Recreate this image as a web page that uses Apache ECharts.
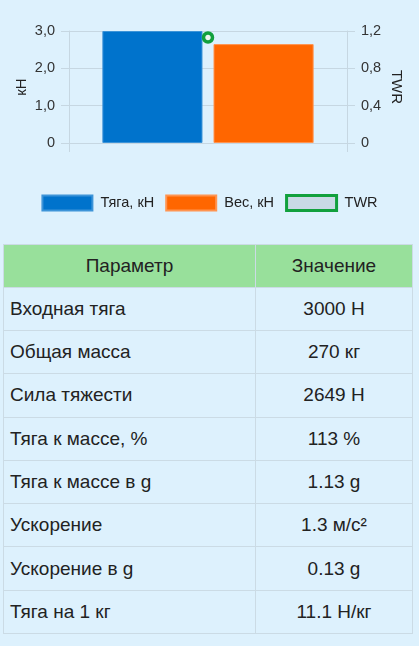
<!DOCTYPE html>
<html>
<head>
<meta charset="utf-8">
<script src="https://cdn.jsdelivr.net/npm/echarts@6/dist/echarts.min.js"></script>
<style>
  html, body { margin: 0; padding: 0; background: #ddf1fd; width: 419px; height: 646px; overflow: hidden; }
  #chart { position: absolute; left: 0; top: 0; width: 419px; height: 235px; }
  table { position: absolute; left: 3px; top: 244px; width: 409px; border-collapse: collapse;
          font-family: "Liberation Sans", Arial, sans-serif; font-size: 19px; color: #222; table-layout: fixed; }
  th, td { border: 1px solid #cbdbe5; height: 43.3px; padding: 0 6px; box-sizing: border-box; }
  th { background: #98e09b; font-weight: normal; text-align: center; height: 42.7px; }
  td.p { text-align: left; }
  td.v { text-align: center; }
</style>
</head>
<body>
<div id="chart"></div>
<table id="tbl">
  <colgroup><col style="width:252px"><col style="width:157px"></colgroup>
  <thead><tr><th id="h1"></th><th id="h2"></th></tr></thead>
  <tbody id="tb"></tbody>
</table>
<script>
// Chart data
const categories = [''];
const thrustKN = [3.0];
const weightKN = [2.649];
const twr = [1.13];
const seriesNames = ['Тяга, кН', 'Вес, кН', 'TWR'];
const leftAxisName = 'кН';
const rightAxisName = 'TWR';

// Table data
const tableHeaders = ['Параметр', 'Значение'];
const paramNames = ['Входная тяга', 'Общая масса', 'Сила тяжести', 'Тяга к массе, %', 'Тяга к массе в g', 'Ускорение', 'Ускорение в g', 'Тяга на 1 кг'];
const paramValues = ['3000 Н', '270 кг', '2649 Н', '113 %', '1.13 g', '1.3 м/с²', '0.13 g', '11.1 Н/кг'];

document.getElementById('h1').textContent = tableHeaders[0];
document.getElementById('h2').textContent = tableHeaders[1];
const tb = document.getElementById('tb');
paramNames.forEach((p, i) => {
  const tr = document.createElement('tr');
  const a = document.createElement('td'); a.className = 'p'; a.textContent = p;
  const b = document.createElement('td'); b.className = 'v'; b.textContent = paramValues[i];
  tr.appendChild(a); tr.appendChild(b); tb.appendChild(tr);
});

const gridColor = '#c6d7e2';
const font = '"Liberation Sans", Arial, sans-serif';
const green = '#11a03d';
const fmt = v => v === 0 ? '0' : v.toFixed(1).replace('.', ',');

const chart = echarts.init(document.getElementById('chart'), null, { renderer: 'canvas' });
chart.setOption({
  backgroundColor: 'transparent',
  animation: false,
  textStyle: { fontFamily: font },
  grid: { left: 69, right: 72, top: 31, bottom: 92, containLabel: false },
  legend: {
    top: 189, left: 'center', itemWidth: 50, itemHeight: 15, itemGap: 11,
    textStyle: { fontFamily: font, fontSize: 14.5, color: '#222', padding: [0, 0, 0, 3] },
    data: [
      { name: seriesNames[0], icon: 'rect' },
      { name: seriesNames[1], icon: 'rect' },
      { name: seriesNames[2], icon: 'rect', itemStyle: { color: '#c9d9e5', borderColor: green, borderWidth: 3 } }
    ]
  },
  xAxis: {
    type: 'category', data: categories, boundaryGap: true,
    axisLine: { show: true, lineStyle: { color: gridColor } },
    axisTick: { show: true, length: 9, lineStyle: { color: gridColor } },
    axisLabel: { show: false },
    splitLine: { show: true, lineStyle: { color: gridColor } }
  },
  yAxis: [
    {
      type: 'value', min: 0, max: 3, interval: 1, position: 'left',
      name: leftAxisName, nameLocation: 'middle', nameGap: 40, nameRotate: 90, nameMoveOverlap: false,
      nameTextStyle: { fontFamily: font, fontSize: 15, color: '#222' },
      axisLine: { show: true, lineStyle: { color: gridColor } },
      axisTick: { show: true, length: 8, lineStyle: { color: gridColor } },
      axisLabel: { formatter: fmt, margin: 14, fontSize: 14.5, color: '#333', fontFamily: font },
      splitLine: { show: true, lineStyle: { color: gridColor } }
    },
    {
      type: 'value', min: 0, max: 1.2, interval: 0.4, position: 'right',
      name: rightAxisName, nameLocation: 'middle', nameGap: 42, nameRotate: -90, nameMoveOverlap: false,
      nameTextStyle: { fontFamily: font, fontSize: 15, color: '#222' },
      axisLine: { show: true, lineStyle: { color: gridColor } },
      axisTick: { show: true, length: 8, lineStyle: { color: gridColor } },
      axisLabel: { formatter: fmt, margin: 14, fontSize: 14.5, color: '#333', fontFamily: font },
      splitLine: { show: false }
    }
  ],
  series: [
    {
      name: seriesNames[0], type: 'bar', yAxisIndex: 0, data: thrustKN,
      barCategoryGap: '24%', barGap: '11%',
      itemStyle: { color: '#0073cc', borderColor: '#3d94d8', borderWidth: 1 }
    },
    {
      name: seriesNames[1], type: 'bar', yAxisIndex: 0, data: weightKN,
      barCategoryGap: '24%', barGap: '11%',
      itemStyle: { color: '#ff6600', borderColor: '#ff9450', borderWidth: 1 }
    },
    {
      name: seriesNames[2], type: 'line', yAxisIndex: 1, data: twr, z: 5,
      symbol: 'circle', symbolSize: 9,
      itemStyle: { color: '#eef6f0', borderColor: green, borderWidth: 3.5 },
      lineStyle: { color: green, width: 3 }
    }
  ]
});
</script>
</body>
</html>
